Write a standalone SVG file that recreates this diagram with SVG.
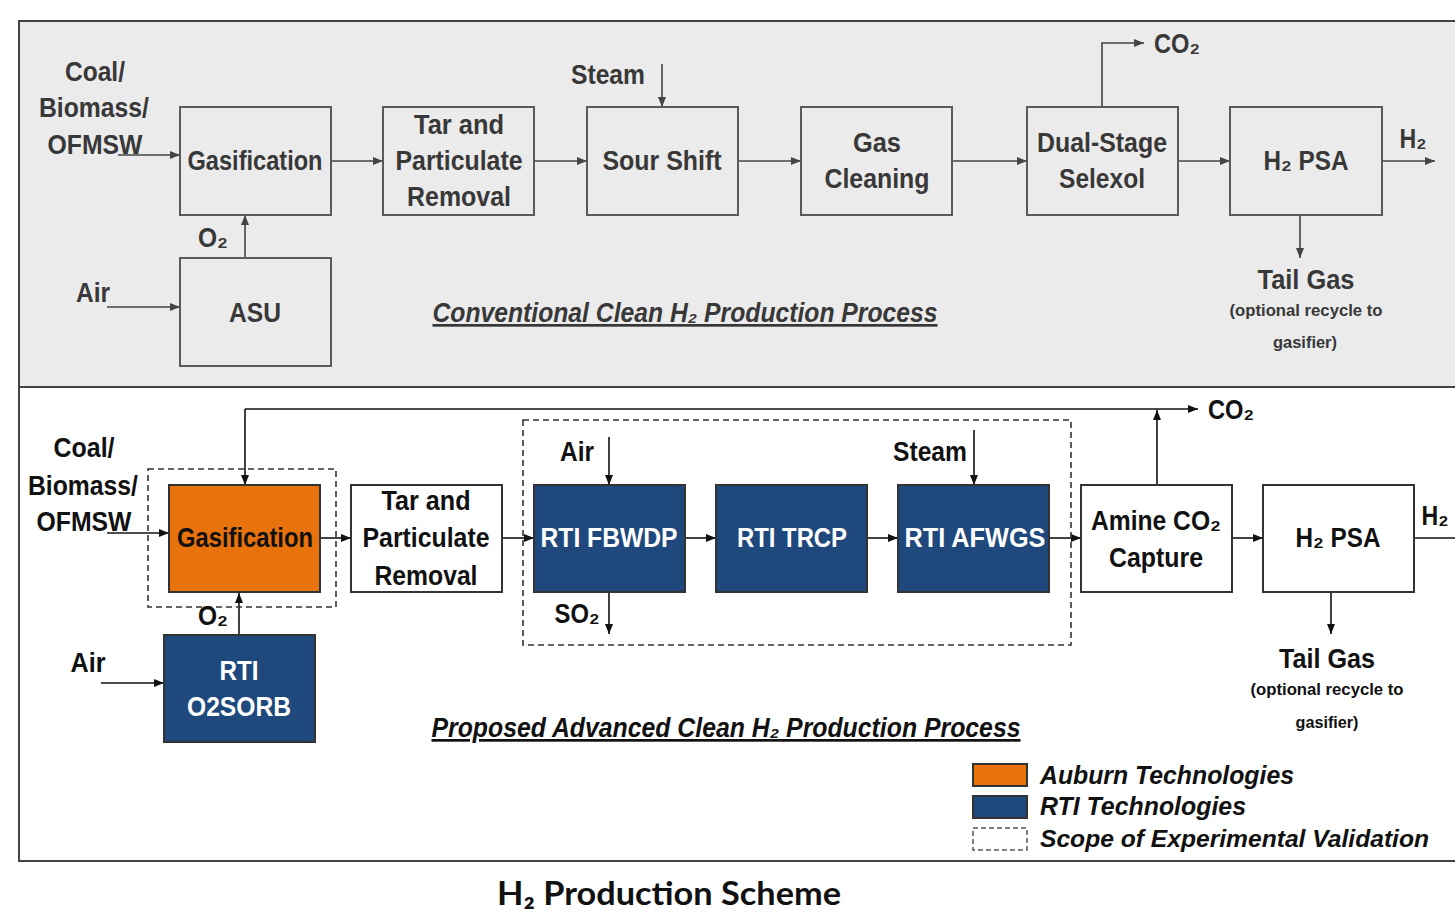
<svg xmlns="http://www.w3.org/2000/svg" width="1455" height="913" viewBox="0 0 1455 913">
<style>
text{font-family:"Liberation Sans",Arial,sans-serif;font-weight:bold;text-anchor:middle}
.t{fill:#383838;font-size:27px}
.b{fill:#111;font-size:27px}
.w{fill:#fff;font-size:27px}
.sm{font-size:17px}
.st{fill:#ebebeb;stroke:#5a5a5a;stroke-width:2}
.sb{fill:#fff;stroke:#333;stroke-width:2}
.or{fill:#E8720C;stroke:#333;stroke-width:2}
.nv{fill:#1F497D;stroke:#333;stroke-width:2}
.dash{fill:none;stroke:#333;stroke-width:1.6;stroke-dasharray:6 4}
.ct{fill:none;stroke:#444;stroke-width:1.6}
.cb{fill:none;stroke:#111;stroke-width:1.6}
.ttl{font-style:italic;text-decoration:underline}
.lg{font-style:italic;fill:#111;font-size:26px;text-anchor:start}
</style>
<defs>
<marker id="at" markerUnits="userSpaceOnUse" markerWidth="10" markerHeight="8" refX="10" refY="4" orient="auto"><path d="M0,0 L10,4 L0,8 z" fill="#444"/></marker>
<marker id="ab" markerUnits="userSpaceOnUse" markerWidth="10" markerHeight="8" refX="10" refY="4" orient="auto"><path d="M0,0 L10,4 L0,8 z" fill="#111"/></marker>
</defs>

<!-- panels -->
<rect x="19" y="21" width="1450" height="366" fill="#ebebeb" stroke="#444" stroke-width="2"/>
<rect x="19" y="387" width="1450" height="474" fill="#fff" stroke="#444" stroke-width="2"/>

<!-- connectors -->
<g id="connectors">
<path class="ct" d="M118,155 H180" marker-end="url(#at)"/>
<path class="ct" d="M331,161 H383" marker-end="url(#at)"/>
<path class="ct" d="M534,161 H587" marker-end="url(#at)"/>
<path class="ct" d="M738,161 H801" marker-end="url(#at)"/>
<path class="ct" d="M952,161 H1027" marker-end="url(#at)"/>
<path class="ct" d="M1178,161 H1230" marker-end="url(#at)"/>
<path class="ct" d="M1382,161 H1435" marker-end="url(#at)"/>
<path class="ct" d="M662,64 V107" marker-end="url(#at)"/>
<path class="ct" d="M1102,107 V43 H1144" marker-end="url(#at)"/>
<path class="ct" d="M1300,215 V258" marker-end="url(#at)"/>
<path class="ct" d="M245,258 V215" marker-end="url(#at)"/>
<path class="ct" d="M107,307 H180" marker-end="url(#at)"/>

<path class="cb" d="M107,533 H169" marker-end="url(#ab)"/>
<path class="cb" d="M320,538 H351" marker-end="url(#ab)"/>
<path class="cb" d="M502,538 H534" marker-end="url(#ab)"/>
<path class="cb" d="M685,538 H716" marker-end="url(#ab)"/>
<path class="cb" d="M867,538 H898" marker-end="url(#ab)"/>
<path class="cb" d="M1049,538 H1081" marker-end="url(#ab)"/>
<path class="cb" d="M1232,538 H1263" marker-end="url(#ab)"/>
<path class="cb" d="M1414,538 H1460"/>
<path class="cb" d="M245,409 H1198" marker-end="url(#ab)"/>
<path class="cb" d="M245,409 V485" marker-end="url(#ab)"/>
<path class="cb" d="M1157,485 V410" marker-end="url(#ab)"/>
<path class="cb" d="M609,437 V485" marker-end="url(#ab)"/>
<path class="cb" d="M974,430 V485" marker-end="url(#ab)"/>
<path class="cb" d="M609,592 V634" marker-end="url(#ab)"/>
<path class="cb" d="M1331,592 V634" marker-end="url(#ab)"/>
<path class="cb" d="M239,635 V593" marker-end="url(#ab)"/>
<path class="cb" d="M101,683 H164" marker-end="url(#ab)"/>
</g>

<!-- top panel nodes -->
<g id="top-feed">
<text class="t" x="95" y="81" textLength="60" lengthAdjust="spacingAndGlyphs">Coal/</text>
<text class="t" x="94" y="117" textLength="110" lengthAdjust="spacingAndGlyphs">Biomass/</text>
<text class="t" x="95" y="154" textLength="95" lengthAdjust="spacingAndGlyphs">OFMSW</text>
</g>
<g id="top-gasification">
<rect class="st" x="180" y="107" width="151" height="108"/>
<text class="t" x="255" y="170" textLength="135" lengthAdjust="spacingAndGlyphs">Gasification</text>
</g>
<g id="top-tar">
<rect class="st" x="383" y="107" width="151" height="108"/>
<text class="t" x="459" y="134" textLength="90" lengthAdjust="spacingAndGlyphs">Tar and</text>
<text class="t" x="459" y="170" textLength="127" lengthAdjust="spacingAndGlyphs">Particulate</text>
<text class="t" x="459" y="206" textLength="104" lengthAdjust="spacingAndGlyphs">Removal</text>
</g>
<g id="top-sour-shift">
<rect class="st" x="587" y="107" width="151" height="108"/>
<text class="t" x="662" y="170" textLength="119" lengthAdjust="spacingAndGlyphs">Sour Shift</text>
<text class="t" x="608" y="84" textLength="74" lengthAdjust="spacingAndGlyphs">Steam</text>
</g>
<g id="top-gas-cleaning">
<rect class="st" x="801" y="107" width="151" height="108"/>
<text class="t" x="877" y="152" textLength="48" lengthAdjust="spacingAndGlyphs">Gas</text>
<text class="t" x="877" y="188" textLength="105" lengthAdjust="spacingAndGlyphs">Cleaning</text>
</g>
<g id="top-selexol">
<rect class="st" x="1027" y="107" width="151" height="108"/>
<text class="t" x="1102" y="152" textLength="130" lengthAdjust="spacingAndGlyphs">Dual-Stage</text>
<text class="t" x="1102" y="188" textLength="86" lengthAdjust="spacingAndGlyphs">Selexol</text>
<text class="t" x="1177" y="53" textLength="46" lengthAdjust="spacingAndGlyphs">CO₂</text>
</g>
<g id="top-psa">
<rect class="st" x="1230" y="107" width="152" height="108"/>
<text class="t" x="1306" y="170" textLength="85" lengthAdjust="spacingAndGlyphs">H₂ PSA</text>
<text class="t" x="1413" y="148" textLength="27" lengthAdjust="spacingAndGlyphs">H₂</text>
<text class="t" x="1306" y="289" textLength="97" lengthAdjust="spacingAndGlyphs">Tail Gas</text>
<text class="t sm" x="1306" y="316" textLength="153" lengthAdjust="spacingAndGlyphs">(optional recycle to</text>
<text class="t sm" x="1305" y="348" textLength="64" lengthAdjust="spacingAndGlyphs">gasifier)</text>
</g>
<g id="top-asu">
<rect class="st" x="180" y="258" width="151" height="108"/>
<text class="t" x="255" y="322" textLength="52" lengthAdjust="spacingAndGlyphs">ASU</text>
<text class="t" x="213" y="247" textLength="30" lengthAdjust="spacingAndGlyphs">O₂</text>
<text class="t" x="93" y="302" textLength="34" lengthAdjust="spacingAndGlyphs">Air</text>
</g>
<text class="t ttl" x="685" y="322" textLength="505" lengthAdjust="spacingAndGlyphs">Conventional Clean H₂ Production Process</text>

<!-- bottom panel nodes -->
<g id="scope-boxes">
<rect class="dash" x="148" y="469" width="188" height="138"/>
<rect class="dash" x="523" y="420" width="548" height="225"/>
</g>
<g id="bot-feed">
<text class="b" x="84" y="457" textLength="61" lengthAdjust="spacingAndGlyphs">Coal/</text>
<text class="b" x="83" y="495" textLength="110" lengthAdjust="spacingAndGlyphs">Biomass/</text>
<text class="b" x="84" y="531" textLength="95" lengthAdjust="spacingAndGlyphs">OFMSW</text>
</g>
<g id="bot-gasification">
<rect class="or" x="169" y="485" width="151" height="107"/>
<text class="b" x="245" y="547" textLength="136" lengthAdjust="spacingAndGlyphs">Gasification</text>
</g>
<g id="bot-tar">
<rect class="sb" x="351" y="485" width="151" height="107"/>
<text class="b" x="426" y="510" textLength="89" lengthAdjust="spacingAndGlyphs">Tar and</text>
<text class="b" x="426" y="547" textLength="127" lengthAdjust="spacingAndGlyphs">Particulate</text>
<text class="b" x="426" y="585" textLength="103" lengthAdjust="spacingAndGlyphs">Removal</text>
</g>
<g id="bot-fbwdp">
<rect class="nv" x="534" y="485" width="151" height="107"/>
<text class="w" x="609" y="547" textLength="137" lengthAdjust="spacingAndGlyphs">RTI FBWDP</text>
<text class="b" x="577" y="461" textLength="34" lengthAdjust="spacingAndGlyphs">Air</text>
<text class="b" x="577" y="623" textLength="45" lengthAdjust="spacingAndGlyphs">SO₂</text>
</g>
<g id="bot-trcp">
<rect class="nv" x="716" y="485" width="151" height="107"/>
<text class="w" x="792" y="547" textLength="110" lengthAdjust="spacingAndGlyphs">RTI TRCP</text>
</g>
<g id="bot-afwgs">
<rect class="nv" x="898" y="485" width="151" height="107"/>
<text class="w" x="975" y="547" textLength="141" lengthAdjust="spacingAndGlyphs">RTI AFWGS</text>
<text class="b" x="930" y="461" textLength="74" lengthAdjust="spacingAndGlyphs">Steam</text>
</g>
<g id="bot-amine">
<rect class="sb" x="1081" y="485" width="151" height="107"/>
<text class="b" x="1156" y="530" textLength="130" lengthAdjust="spacingAndGlyphs">Amine CO₂</text>
<text class="b" x="1156" y="567" textLength="94" lengthAdjust="spacingAndGlyphs">Capture</text>
<text class="b" x="1231" y="419" textLength="46" lengthAdjust="spacingAndGlyphs">CO₂</text>
</g>
<g id="bot-psa">
<rect class="sb" x="1263" y="485" width="151" height="107"/>
<text class="b" x="1338" y="547" textLength="85" lengthAdjust="spacingAndGlyphs">H₂ PSA</text>
<text class="b" x="1435" y="525" textLength="27" lengthAdjust="spacingAndGlyphs">H₂</text>
<text class="b" x="1327" y="668" textLength="96" lengthAdjust="spacingAndGlyphs">Tail Gas</text>
<text class="b sm" x="1327" y="695" textLength="153" lengthAdjust="spacingAndGlyphs">(optional recycle to</text>
<text class="b sm" x="1327" y="728" textLength="63" lengthAdjust="spacingAndGlyphs">gasifier)</text>
</g>
<g id="bot-o2sorb">
<rect class="nv" x="164" y="635" width="151" height="107"/>
<text class="w" x="239" y="680" textLength="39" lengthAdjust="spacingAndGlyphs">RTI</text>
<text class="w" x="239" y="716" textLength="104" lengthAdjust="spacingAndGlyphs">O2SORB</text>
<text class="b" x="213" y="625" textLength="30" lengthAdjust="spacingAndGlyphs">O₂</text>
<text class="b" x="88" y="672" textLength="35" lengthAdjust="spacingAndGlyphs">Air</text>
</g>
<text class="b ttl" x="726" y="737" textLength="589" lengthAdjust="spacingAndGlyphs">Proposed Advanced Clean H₂ Production Process</text>

<g id="legend">
<rect class="or" x="973" y="764" width="54" height="22"/>
<rect class="nv" x="973" y="796" width="54" height="22"/>
<rect x="973" y="828" width="54" height="22" fill="none" stroke="#555" stroke-width="1.5" stroke-dasharray="5 3"/>
<text class="lg" x="1040" y="784" textLength="254" lengthAdjust="spacingAndGlyphs">Auburn Technologies</text>
<text class="lg" x="1040" y="815" textLength="206" lengthAdjust="spacingAndGlyphs">RTI Technologies</text>
<text class="lg" x="1040" y="847" style="font-size:24px" textLength="389" lengthAdjust="spacingAndGlyphs">Scope of Experimental Validation</text>
</g>

<text x="669" y="905" style="font-family:Lato,'Open Sans',sans-serif;font-size:32px;fill:#111" textLength="344" lengthAdjust="spacingAndGlyphs">H₂ Production Scheme</text>
</svg>
